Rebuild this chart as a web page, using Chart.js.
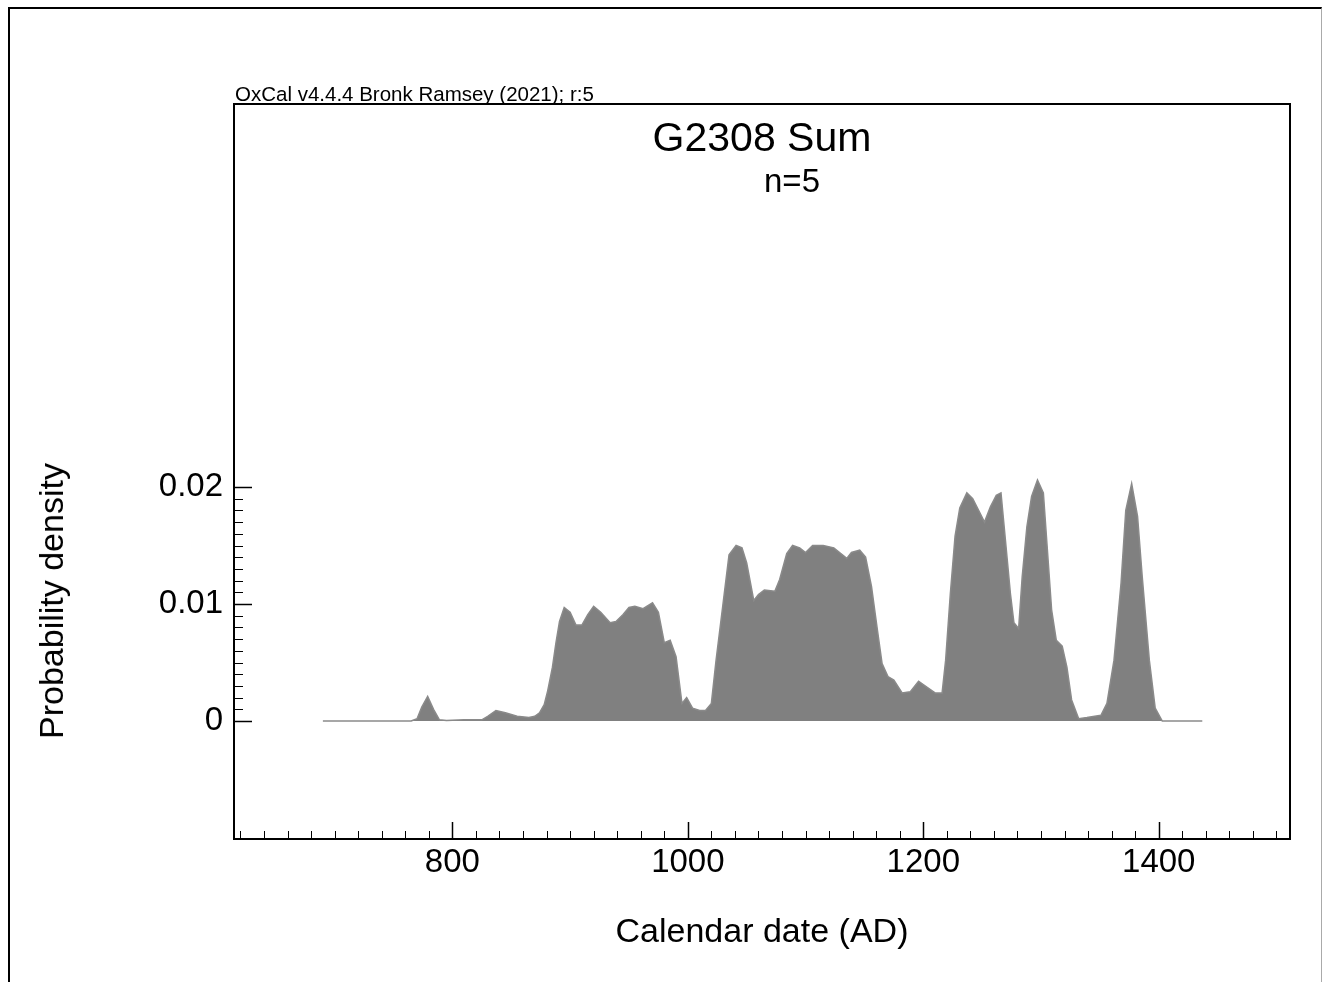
<!DOCTYPE html>
<html>
<head>
<meta charset="utf-8">
<title>G2308 Sum</title>
<script src="https://cdn.jsdelivr.net/npm/chart.js@4.4.0/dist/chart.umd.min.js"></script>
<style>
  body { margin: 0; background: #fff; font-family: "Liberation Sans", Arial, sans-serif; }
  #wrap { position: relative; width: 1323px; height: 982px; overflow: hidden; }
  #frame { position: absolute; left: 8px; top: 7px; width: 1314px; height: 990px; box-sizing: border-box;
           border-top: 2px solid #000; border-left: 2px solid #000; border-right: 1px solid #aaa; }
  canvas { position: absolute; left: 0; top: 0; }
  .txt { position: absolute; white-space: nowrap; color: #000; line-height: 1; }
</style>
</head>
<body>
<div id="wrap">
  <div id="frame"></div>
  <canvas id="sumChart" width="1323" height="982"></canvas>
  <div class="txt" id="oxcal" style="left:235px; top:84px; font-size:20.5px;">OxCal v4.4.4 Bronk Ramsey (2021); r:5</div>
  <div class="txt" id="title" style="left:762px; top:117px; font-size:41px; transform:translateX(-50%);">G2308 Sum</div>
  <div class="txt" id="nlabel" style="left:792px; top:164px; font-size:33px; transform:translateX(-50%);">n=5</div>
  <div class="txt" id="xtitle" style="left:762px; top:913px; font-size:34px; transform:translateX(-50%);">Calendar date (AD)</div>
  <div class="txt" id="ytitle" style="left:51px; top:601px; font-size:34px; transform:translate(-50%,-50%) rotate(-90deg);">Probability density</div>
</div>
<script>
// calendar years (AD)
const years = [
  690, 765, 770, 774, 779, 784, 789, 795, 810, 825, 830, 837, 845, 855, 865, 870, 874, 878, 881, 885,
  888, 891, 895, 900, 905, 910, 915, 920, 926, 934, 939, 945, 950, 955, 962, 970, 975, 980, 985, 990,
  995, 999, 1004, 1010, 1015, 1020, 1024, 1030, 1035, 1041, 1046, 1050, 1056, 1060, 1065, 1074, 1078, 1084, 1089, 1095,
  1100, 1106, 1115, 1124, 1135, 1139, 1146, 1151, 1156, 1161, 1165, 1170, 1175, 1182, 1189, 1196, 1203, 1210, 1216, 1219,
  1223, 1227, 1231, 1237, 1242, 1247, 1252, 1257, 1262, 1266, 1270, 1274, 1277, 1281, 1284, 1288, 1292, 1297, 1302, 1305,
  1309, 1313, 1318, 1322, 1326, 1332, 1339, 1351, 1356, 1362, 1368, 1372, 1377, 1382, 1386, 1392, 1397, 1403, 1437
];

// summed probability density
const density = [
  0, 0, 0.0002, 0.0012, 0.0021, 0.0010, 0.0001, 0.00005, 0.0001, 0.0001, 0.0004, 0.0009, 0.0007, 0.0004, 0.0003, 0.0004, 0.0007, 0.0014, 0.0026, 0.0046,
  0.0067, 0.0085, 0.0097, 0.0093, 0.0082, 0.0082, 0.0091, 0.0098, 0.0093, 0.0084, 0.0085, 0.0091, 0.0097, 0.0098, 0.0096, 0.0101, 0.0093, 0.0067, 0.0069, 0.0055,
  0.0015, 0.0020, 0.0011, 0.0009, 0.0009, 0.0015, 0.0052, 0.0101, 0.0142, 0.0150, 0.0148, 0.0135, 0.0103, 0.0108, 0.0112, 0.0111, 0.0121, 0.0143, 0.0150, 0.0148,
  0.0144, 0.0150, 0.0150, 0.0148, 0.0139, 0.0144, 0.0146, 0.0140, 0.0115, 0.0078, 0.0049, 0.0038, 0.0035, 0.0024, 0.0025, 0.0034, 0.0029, 0.0024, 0.0024, 0.0052,
  0.0109, 0.0158, 0.0182, 0.0195, 0.0190, 0.0180, 0.0170, 0.0183, 0.0193, 0.0195, 0.0152, 0.0109, 0.0084, 0.0079, 0.0123, 0.0166, 0.0192, 0.0206, 0.0195, 0.0152,
  0.0095, 0.0069, 0.0064, 0.0046, 0.0018, 0.0002, 0.0003, 0.0005, 0.0015, 0.0052, 0.0118, 0.0180, 0.0203, 0.0175, 0.0123, 0.0052, 0.0011, 0, 0
];

// axis ticks
const xTickValues = [800, 1000, 1200, 1400];
const yTickValues = [0, 0.01, 0.02];
const xMinorStep = 20;    // years between small ticks
const yMinorStep = 0.001; // density between small ticks

// small inward ticks and the black plot frame
const frameTicks = {
    id: "frameTicks",
    afterDraw(chart) {
        let ctx = chart.ctx;
        let a = chart.chartArea;
        let xs = chart.scales.x;
        let ys = chart.scales.y;
        ctx.save();
        ctx.strokeStyle = "#000";

        // bottom axis ticks point up into the plot
        for (let v = Math.ceil(xs.min / xMinorStep) * xMinorStep; v <= xs.max; v += xMinorStep) {
            let px = Math.round(xs.getPixelForValue(v)) + 0.5;
            let major = v % 200 === 0;
            ctx.lineWidth = major ? 1.5 : 1;
            ctx.beginPath();
            ctx.moveTo(px, a.bottom);
            ctx.lineTo(px, a.bottom - (major ? 17 : 8));
            ctx.stroke();
        }

        // left axis ticks point right into the plot
        for (let i = 0; i <= 20; i++) {
            let v = i * yMinorStep;
            let py = Math.round(ys.getPixelForValue(v)) + 0.5;
            let major = i % 10 === 0;
            ctx.lineWidth = major ? 1.5 : 1;
            ctx.beginPath();
            ctx.moveTo(a.left, py);
            ctx.lineTo(a.left + (major ? 18 : 9), py);
            ctx.stroke();
        }

        ctx.lineWidth = 2;
        ctx.strokeRect(a.left, a.top, a.right - a.left, a.bottom - a.top);
        ctx.restore();
    }
};

let ctx = document.getElementById("sumChart").getContext("2d");

let sumChart = new Chart(ctx, {
    type: "line",
    data: {
        datasets: [{
            label: "G2308 Sum",
            data: years.map((yr, i) => ({ x: yr, y: density[i] })),
            borderColor: "#8a8a8a",
            backgroundColor: "#808080",
            borderWidth: 1.5,
            pointRadius: 0,
            tension: 0,
            fill: "origin"
        }]
    },
    options: {
        responsive: false,
        animation: false,
        devicePixelRatio: 1,
        layout: { padding: { left: 0, top: 104, right: 33, bottom: 0 } },
        plugins: {
            legend: { display: false },
            tooltip: { enabled: false }
        },
        scales: {
            x: {
                type: "linear",
                position: "bottom",
                min: 614.5,
                max: 1511.5,
                afterBuildTicks: function (scale) {
                    scale.ticks = xTickValues.map(v => ({ value: v }));
                },
                afterFit: function (scale) { scale.height = 143; },
                grid: { display: false, drawTicks: false },
                border: { display: false },
                ticks: {
                    color: "#000",
                    padding: 4,
                    maxRotation: 0,
                    font: { family: "Liberation Sans", size: 33 },
                    callback: v => String(v)
                }
            },
            y: {
                type: "linear",
                min: -0.010085,
                max: 0.052735,
                afterBuildTicks: function (scale) {
                    scale.ticks = yTickValues.map(v => ({ value: v }));
                },
                afterFit: function (scale) { scale.width = 234; },
                grid: { display: false, drawTicks: false },
                border: { display: false },
                ticks: {
                    color: "#000",
                    padding: 11,
                    font: { family: "Liberation Sans", size: 33 },
                    callback: v => (v === 0 ? "0" : v.toFixed(2))
                }
            }
        }
    },
    plugins: [frameTicks]
});
</script>
</body>
</html>
